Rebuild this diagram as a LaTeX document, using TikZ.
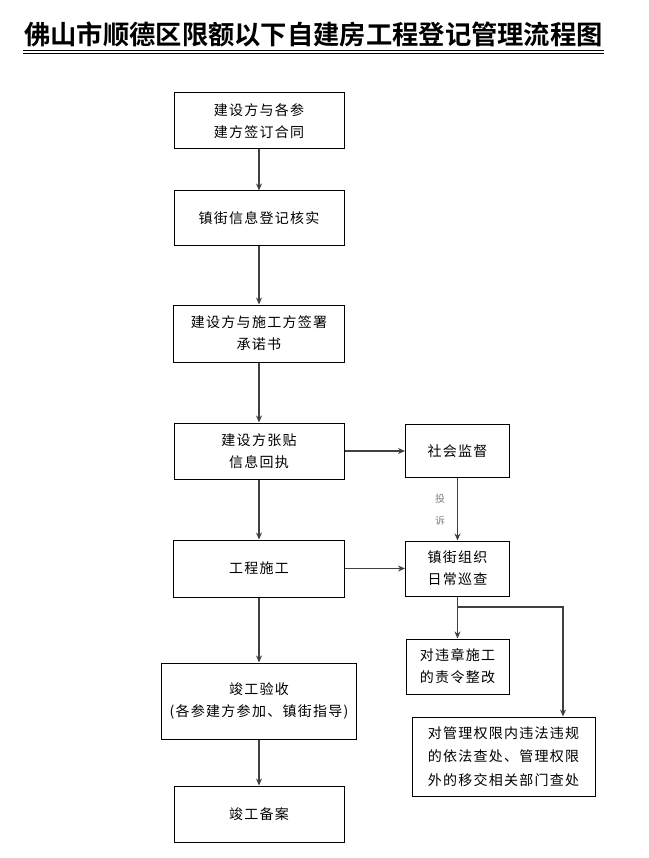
\documentclass[tikz,border=0pt]{standalone}
\usepackage{fontspec}
\usetikzlibrary{arrows.meta}
\newfontfamily\cjk[LetterSpace=9]{Noto Sans CJK SC}
\newfontfamily\titlefont{Noto Sans CJK SC Bold}

\begin{document}
\begin{tikzpicture}[x=1pt, y=-1pt,
  box/.style={draw, line width=1pt, inner sep=0pt, align=center, font=\cjk\fontsize{14}{22}\selectfont},
  flow/.style={draw=black!75, line width=1.5pt, -{Stealth[length=7pt,width=6pt]}}]
\useasboundingbox (0,0) rectangle (648,858);

\node[font=\titlefont\fontsize{26.3}{30}\selectfont, inner sep=0pt] (title) at (313.5,34.5) {佛山市顺德区限额以下自建房工程登记管理流程图};
\draw[line width=1.5pt] (23,50.7) -- (604,50.7);
\draw[line width=0.9pt] (23,53.4) -- (604,53.4);

% left column
\node[box, minimum width=170, minimum height=56] (sign) at (259,121) {建设方与各参\\建方签订合同};
\node[box, minimum width=170, minimum height=55] (check) at (259,218.5) {镇街信息登记核实};
\node[box, minimum width=171, minimum height=57] (pledge) at (259,333.5) {建设方与施工方签署\\承诺书};
\node[box, minimum width=170, minimum height=56] (post) at (259,451) {建设方张贴\\信息回执};
\node[box, minimum width=171, minimum height=57] (build) at (259,568.5) {工程施工};
\node[box, minimum width=195, minimum height=76] (accept) at (259,701) {竣工验收\\(各参建方参加、镇街指导)};
\node[box, minimum width=170, minimum height=56] (record) at (259,814) {竣工备案};

% right column
\node[box, minimum width=104, minimum height=53] (watch) at (457.5,451) {社会监督};
\node[box, minimum width=104, minimum height=55] (patrol) at (457.5,568.5) {镇街组织\\日常巡查};
\node[box, minimum width=103, minimum height=55] (fix) at (457.5,666.5) {对违章施工\\的责令整改};
\node[box, minimum width=183, minimum height=79, font=\cjk\fontsize{14}{23.5}\selectfont] (punish) at (503.5,756.5) {对管理权限内违法违规\\的依法查处、管理权限\\外的移交相关部门查处};
\node[align=center, text=black!50, font=\cjk\fontsize{10}{22}\selectfont] (complain) at (440,510) {投\\诉};

\draw[flow] (sign) -- (check);
\draw[flow] (check) -- (pledge);
\draw[flow] (pledge) -- (post);
\draw[flow] (post) -- (build);
\draw[flow] (build) -- (accept);
\draw[flow] (accept) -- (record);

\draw[flow] (post) -- (watch);
\draw[flow] (build) -- (patrol);
\draw[flow] (watch) -- (patrol);
\draw[flow] (patrol) -- (fix);
\coordinate (bend) at (563,607);
\draw[flow] (patrol.south) |- (bend) -- (bend |- punish.north);
\end{tikzpicture}
\end{document}
